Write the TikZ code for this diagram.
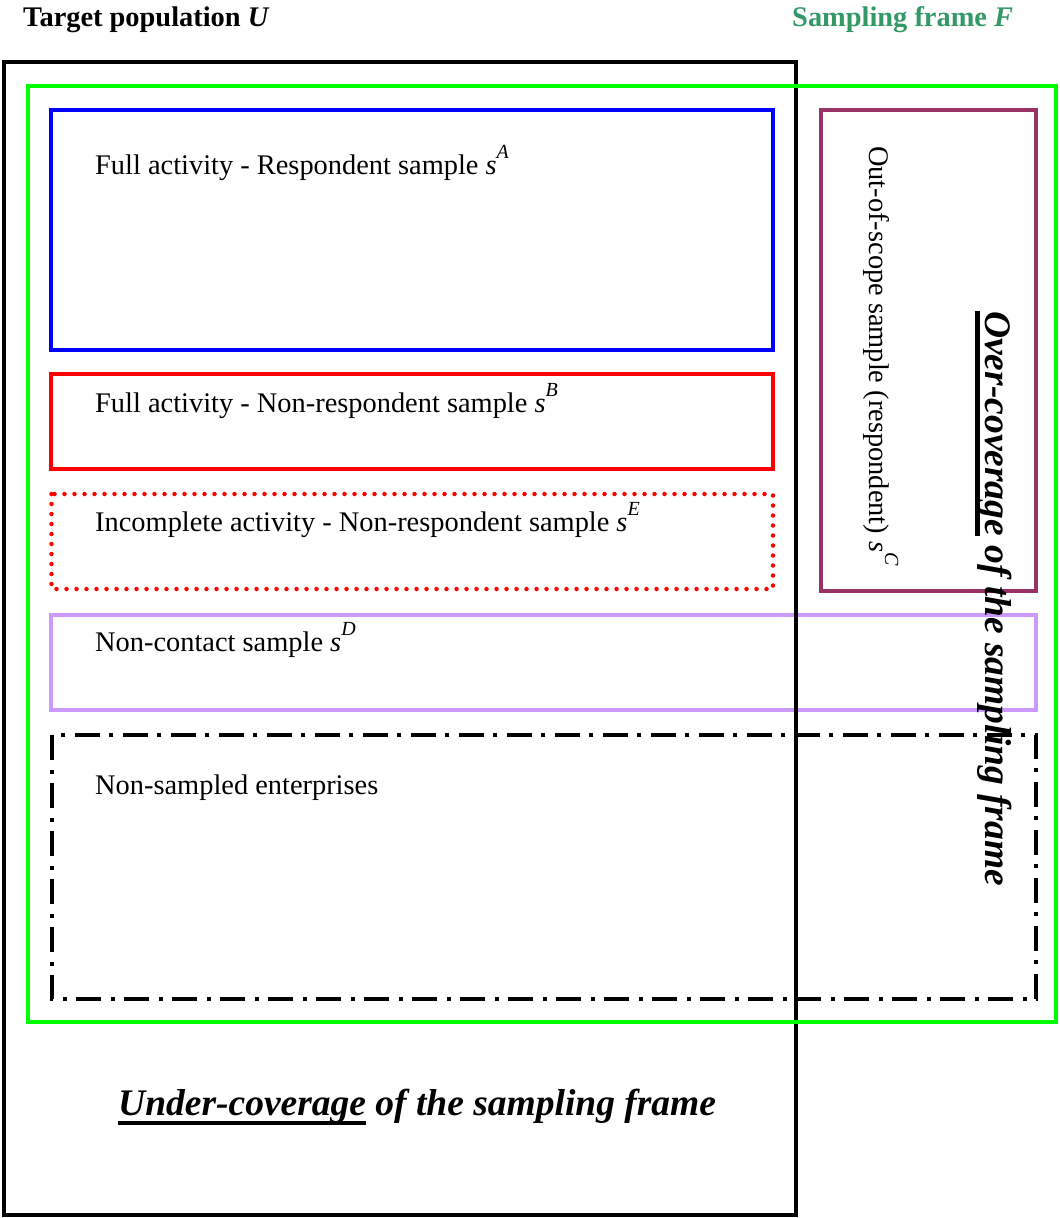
\documentclass[tikz,border=0pt]{standalone}
\usepackage{fontspec}
\setmainfont{Liberation Serif}
\definecolor{frgreen}{HTML}{00FF00}
\definecolor{frblue}{HTML}{0000FF}
\definecolor{frred}{HTML}{FF0000}
\definecolor{frlav}{HTML}{CC99FF}
\definecolor{frmaroon}{HTML}{993366}
\definecolor{frtitle}{HTML}{339966}
\newcommand\supx[1]{\raisebox{16pt}{\fontsize{20}{20}\selectfont\itshape #1}}
\newsavebox\ulbox
\newcommand\ulx[1]{\sbox\ulbox{#1}\rlap{\rule[-10pt]{\wd\ulbox}{4.5pt}}\usebox\ulbox}
\begin{document}
\begin{tikzpicture}[x=1pt,y=-1pt,
  boxline/.style={line width=4pt},
  lbl/.style={inner sep=0pt, anchor=base west, font=\fontsize{28.4}{32}\selectfont},
  biglbl/.style={inner sep=0pt, anchor=base west, font=\fontsize{37.5}{40}\selectfont\bfseries\itshape},
  reddots/.style={boxline, frred, line width=4.5pt, line cap=round, dash pattern=on 0pt off 10pt},
  dashdot/.style={boxline, black, dash pattern=on 25pt off 10pt on 4pt off 9pt}]
\useasboundingbox[fill=white] (0,0) rectangle (1060,1218);
\draw[boxline, frlav] (51,614.5) rectangle (1035.5,709.5);
\draw[boxline, black] (4,62) rectangle (796,1215);
\draw[boxline, frgreen] (27.5,85.5) rectangle (1055.5,1022);
\draw[boxline, frblue] (51,109.5) rectangle (773,350);
\draw[boxline, frred] (51,374) rectangle (773,469);
\draw[reddots] (51.5,494) rectangle (773,589);
\draw[boxline, frmaroon] (820.5,110) rectangle (1035.5,590.5);
\draw[dashdot] (52,734.5) rectangle (1035.5,999);

\node[lbl, font=\fontsize{28.4}{32}\selectfont\bfseries] (tU) at (23,27) {Target population \textit{U}};
\node[lbl, font=\fontsize{28.4}{32}\selectfont\bfseries, text=frtitle] (tF) at (792,27) {Sampling frame \textit{F}};

\node[lbl] (sA) at (95,174) {Full activity - Respondent sample \textit{s}\supx{A}};
\node[lbl] (sB) at (95,412) {Full activity - Non-respondent sample \textit{s}\supx{B}};
\node[lbl] (sE) at (95,531) {Incomplete activity - Non-respondent sample \textit{s}\supx{E}};
\node[lbl] (sD) at (95,651) {Non-contact sample \textit{s}\supx{D}};
\node[lbl] (ns) at (95,794) {Non-sampled enterprises};
\node[lbl, rotate=-90] (sC) at (869,146) {Out-of-scope sample (respondent) \textit{s}\supx{C}};

\node[biglbl] (under) at (118,1115) {\ulx{Under-coverage} of the sampling frame};
\node[biglbl, rotate=-90] (over) at (985,311) {\ulx{Over-coverage} of the sampling frame};
\end{tikzpicture}
\end{document}
